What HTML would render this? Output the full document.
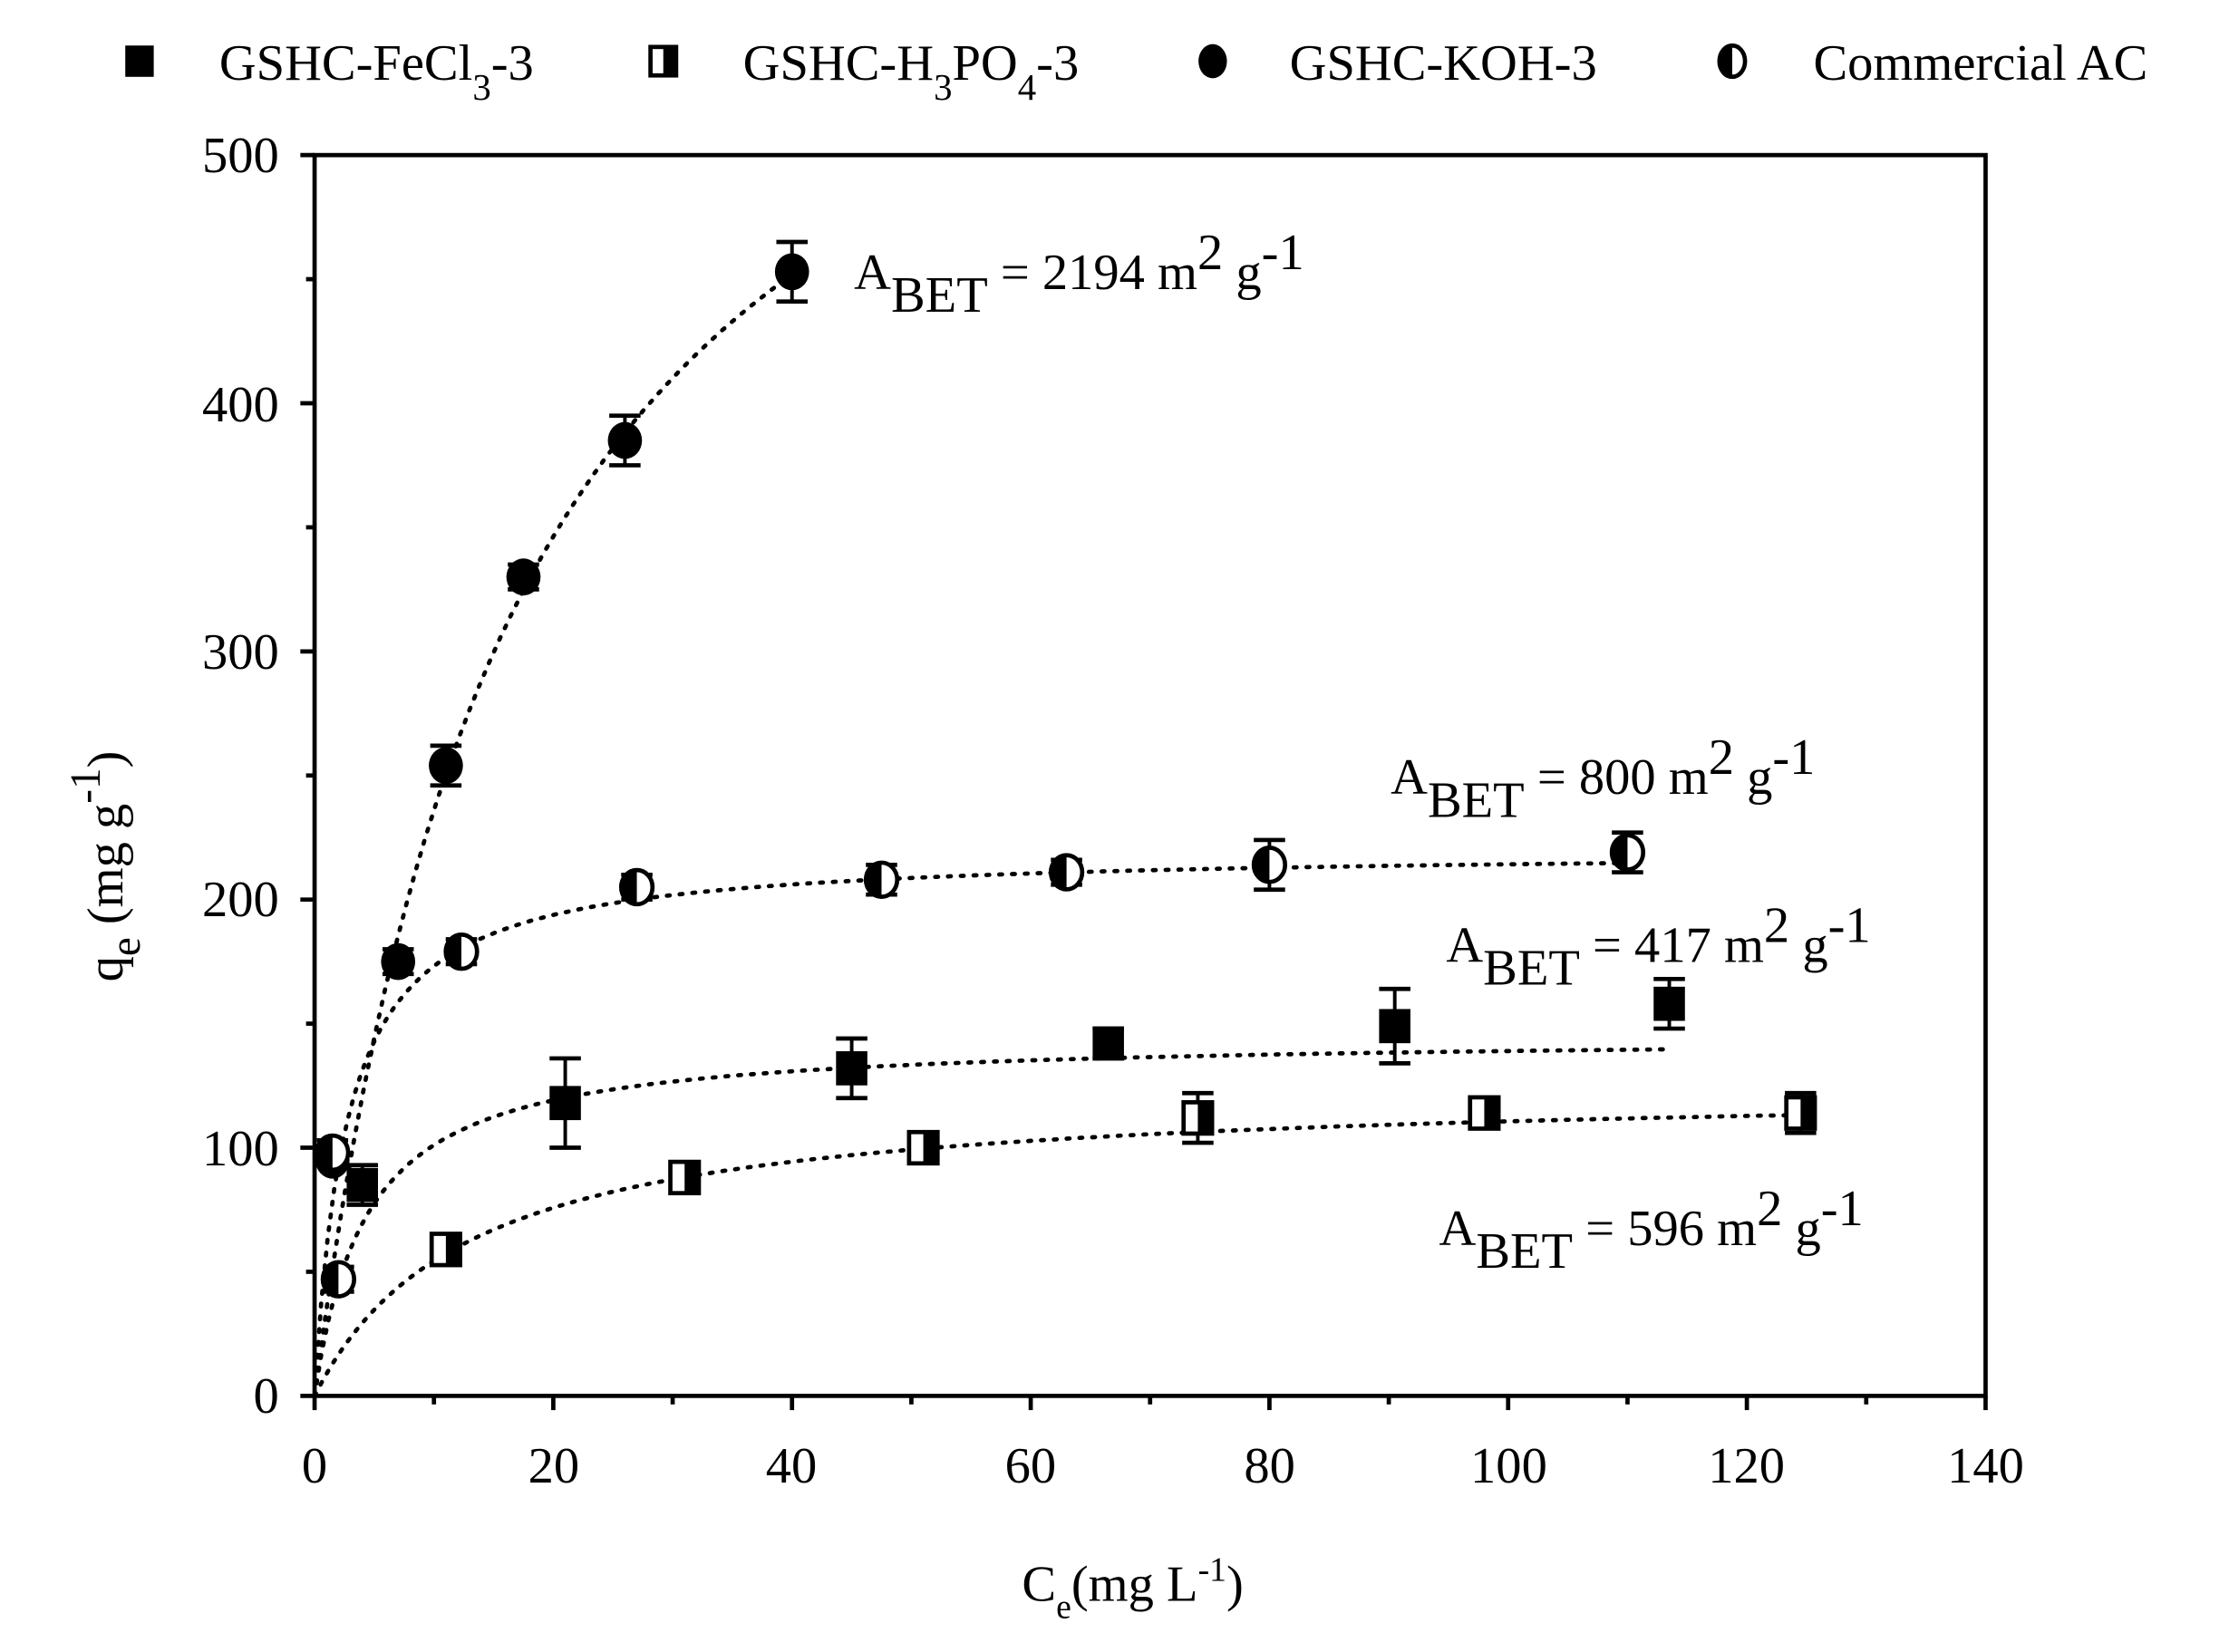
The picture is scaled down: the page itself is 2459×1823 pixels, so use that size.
<!DOCTYPE html>
<html><head><meta charset="utf-8"><style>
html,body{margin:0;padding:0;background:#fff}
svg{display:block}
text{font-family:"Liberation Serif",serif;fill:#000}
</style></head><body>
<svg id="s" width="2459" height="1823" viewBox="0 0 1566 1161" xmlns="http://www.w3.org/2000/svg">
<rect width="1566" height="1161" fill="#fff"/>
<rect x="221" y="109" width="1174" height="872" fill="none" stroke="#000" stroke-width="3"/>
<g font-size="36">
<text x="221" y="1042" text-anchor="middle">0</text>
<text x="389" y="1042" text-anchor="middle">20</text>
<text x="556" y="1042" text-anchor="middle">40</text>
<text x="724" y="1042" text-anchor="middle">60</text>
<text x="892" y="1042" text-anchor="middle">80</text>
<text x="1060" y="1042" text-anchor="middle">100</text>
<text x="1227" y="1042" text-anchor="middle">120</text>
<text x="1395" y="1042" text-anchor="middle">140</text>
<text x="196" y="993" text-anchor="end">0</text>
<text x="196" y="819" text-anchor="end">100</text>
<text x="196" y="644" text-anchor="end">200</text>
<text x="196" y="470" text-anchor="end">300</text>
<text x="196" y="296" text-anchor="end">400</text>
<text x="196" y="121" text-anchor="end">500</text>
</g>
<text x="718" y="1125" font-size="36">C<tspan font-size="24" dy="12">e</tspan><tspan dy="-12">(mg L</tspan><tspan font-size="24" dy="-14">-1</tspan><tspan dy="14">)</tspan></text>
<text transform="translate(86,690) rotate(-90)" font-size="36">q<tspan font-size="30" dy="12">e</tspan><tspan dy="-12"> (mg g</tspan><tspan font-size="30" dy="-16">-1</tspan><tspan dy="16">)</tspan></text>
<g font-size="36">
<text x="600" y="203">A<tspan font-size="36" dy="16">BET</tspan><tspan dy="-16"> = 2194 m</tspan><tspan dy="-14">2</tspan><tspan dy="14"> g</tspan><tspan dy="-14">-1</tspan></text>
<text x="977" y="558">A<tspan dy="16">BET</tspan><tspan dy="-16"> = 800 m</tspan><tspan dy="-14">2</tspan><tspan dy="14"> g</tspan><tspan dy="-14">-1</tspan></text>
<text x="1016" y="676">A<tspan dy="16">BET</tspan><tspan dy="-16"> = 417 m</tspan><tspan dy="-14">2</tspan><tspan dy="14"> g</tspan><tspan dy="-14">-1</tspan></text>
<text x="1011" y="875">A<tspan dy="16">BET</tspan><tspan dy="-16"> = 596 m</tspan><tspan dy="-14">2</tspan><tspan dy="14"> g</tspan><tspan dy="-14">-1</tspan></text>
</g>
<g font-size="36">
<rect x="88" y="32" width="20" height="22" fill="#000"/>
<text x="154" y="56">GSHC-FeCl<tspan font-size="26" dy="14">3</tspan><tspan dy="-14">-3</tspan></text>
<rect x="457" y="33" width="18" height="20" fill="#fff" stroke="#000" stroke-width="3"/><rect x="466" y="33" width="9" height="20" fill="#000"/>
<text x="522" y="56">GSHC-H<tspan font-size="26" dy="14">3</tspan><tspan dy="-14">PO</tspan><tspan font-size="26" dy="14">4</tspan><tspan dy="-14">-3</tspan></text>
<ellipse cx="852" cy="43" rx="10" ry="12" fill="#000"/>
<text x="906" y="56">GSHC-KOH-3</text>
<ellipse cx="1217" cy="43" rx="9" ry="11" fill="#fff" stroke="#000" stroke-width="3"/><path d="M1217,32 A9,11 0 0 0 1217,54 Z" fill="#000"/>
<text x="1274" y="56">Commercial AC</text>
</g>
<g id="dyn"></g>
</svg>
<script>
const X=c=>221+c*1174/140, Y=q=>981-q*872/500;
let h='';
for(let c=0;c<=140;c+=10){const L=c%20==0?10:6;h+=`<line x1="${X(c)}" y1="981" x2="${X(c)}" y2="${981+L}" stroke="#000" stroke-width="3"/>`;}
for(let q=0;q<=500;q+=50){const L=q%100==0?10:6;h+=`<line x1="${221-L}" y1="${Y(q)}" x2="221" y2="${Y(q)}" stroke="#000" stroke-width="3"/>`;}
function curve(qm,K,cmax){let p='';for(let i=0;i<=200;i++){const c=cmax*i/200;const q=qm*K*c/(1+K*c);p+=(i?'L':'M')+X(c).toFixed(1)+','+Y(q).toFixed(1);}
h+=`<path d="${p}" fill="none" stroke="#000" stroke-width="3" stroke-dasharray="2,7" stroke-linecap="round"/>`;}
curve(650,0.057,40);curve(220,0.37,110);curve(145,0.23,113);curve(125,0.077,124);
function eb(c,q,e){if(!e)return;const x=X(c);h+=`<line x1="${x}" y1="${Y(q+e)}" x2="${x}" y2="${Y(q-e)}" stroke="#000" stroke-width="2.5"/><line x1="${x-11}" y1="${Y(q+e)}" x2="${x+11}" y2="${Y(q+e)}" stroke="#000" stroke-width="3"/><line x1="${x-11}" y1="${Y(q-e)}" x2="${x+11}" y2="${Y(q-e)}" stroke="#000" stroke-width="3"/>`;}
function sq(c,q,e){eb(c,q,e);h+=`<rect x="${X(c)-11}" y="${Y(q)-12}" width="22" height="24" fill="#000"/>`;}
function hsq(c,q,e){eb(c,q,e);const x=X(c),y=Y(q);h+=`<rect x="${x-10}" y="${y-11}" width="20" height="22" fill="#fff" stroke="#000" stroke-width="3"/><rect x="${x}" y="${y-11}" width="10" height="22" fill="#000"/>`;}
function ci(c,q,e){eb(c,q,e);h+=`<ellipse cx="${X(c)}" cy="${Y(q)}" rx="12" ry="13" fill="#000"/>`;}
function hci(c,q,e){eb(c,q,e);const x=X(c),y=Y(q);h+=`<ellipse cx="${x}" cy="${y}" rx="11" ry="12" fill="#fff" stroke="#000" stroke-width="3"/><path d="M${x},${y-12} A11,12 0 0 0 ${x},${y+12} Z" fill="#000"/>`;}
[[4,85,8],[21,118,18],[45,132,12],[66.5,142,6],[90.5,149,15],[113.5,158,10]].forEach(a=>sq(...a));
[[11,59,3],[31,88,3],[51,100,3],[74,112,10],[98,114,3],[124.5,114,8]].forEach(a=>hsq(...a));
[[1.5,95,0],[7,175,5],[11,254,8],[17.5,330,5],[26,385,10],[40,453,12]].forEach(a=>ci(...a));
[[1.5,98,5],[2,47,5],[12.3,179,5],[27,205,5],[47.5,208,6],[63,211,5],[80,214,10],[110,219,8]].forEach(a=>hci(...a));
document.getElementById('dyn').innerHTML=h;
</script>
</body></html>
